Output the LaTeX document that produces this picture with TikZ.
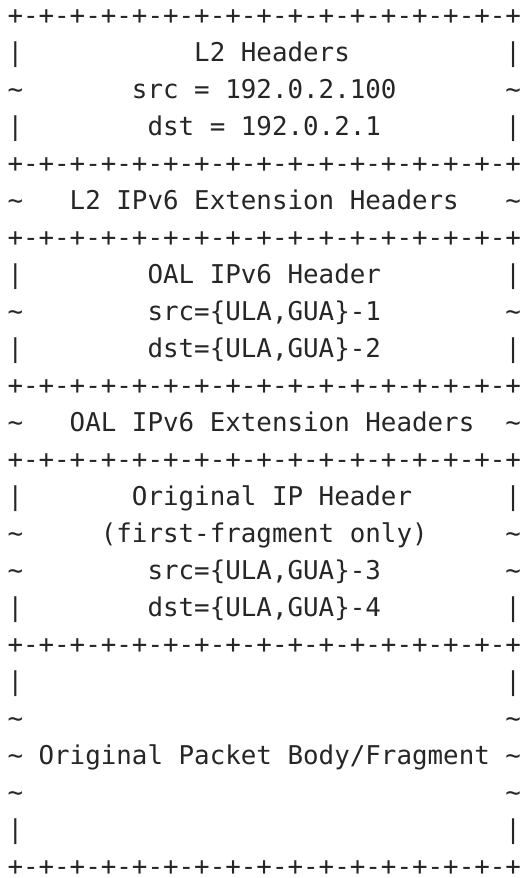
\documentclass[tikz,border=0pt]{standalone}
\usepackage{fontspec}
\newfontfamily\asciifont{DejaVu Sans Mono}
\def\cw{15.56}
\def\lp{37.0}
\def\bo{24.5}
\def\xo{7.5}
\def\pmq{+-+-+-+-}
\def\bordertxt{\pmq\pmq\pmq\pmq+}
\tikzset{txt/.style={anchor=base west, inner sep=0pt, outer sep=0pt, text depth=0pt,
  font=\asciifont\fontsize{25.85}{37}\selectfont, text=black!85}}
% \asc{name}{row}{column}{text}
\newcommand\asc[4]{\node[txt] (#1) at ({\xo pt+#3*\cw pt},{-(\bo+(#2-1)*\lp)*1pt}) {#4};}
\newcommand\tl{\textasciitilde}
\begin{document}
\begin{tikzpicture}
\useasboundingbox (0,0) rectangle (523pt,-878pt);
\asc{b1}{1}{0}{\bordertxt}
\asc{r2l}{2}{0}{|}\asc{r2t}{2}{12}{L2 Headers}\asc{r2r}{2}{32}{|}
\asc{r3l}{3}{0}{\tl}\asc{r3t}{3}{8}{src = 192.0.2.100}\asc{r3r}{3}{32}{\tl}
\asc{r4l}{4}{0}{|}\asc{r4t}{4}{9}{dst = 192.0.2.1}\asc{r4r}{4}{32}{|}
\asc{b5}{5}{0}{\bordertxt}
\asc{r6l}{6}{0}{\tl}\asc{r6t}{6}{4}{L2 IPv6 Extension Headers}\asc{r6r}{6}{32}{\tl}
\asc{b7}{7}{0}{\bordertxt}
\asc{r8l}{8}{0}{|}\asc{r8t}{8}{9}{OAL IPv6 Header}\asc{r8r}{8}{32}{|}
\asc{r9l}{9}{0}{\tl}\asc{r9t}{9}{9}{src=\{ULA,GUA\}-1}\asc{r9r}{9}{32}{\tl}
\asc{r10l}{10}{0}{|}\asc{r10t}{10}{9}{dst=\{ULA,GUA\}-2}\asc{r10r}{10}{32}{|}
\asc{b11}{11}{0}{\bordertxt}
\asc{r12l}{12}{0}{\tl}\asc{r12t}{12}{4}{OAL IPv6 Extension Headers}\asc{r12r}{12}{32}{\tl}
\asc{b13}{13}{0}{\bordertxt}
\asc{r14l}{14}{0}{|}\asc{r14t}{14}{8}{Original IP Header}\asc{r14r}{14}{32}{|}
\asc{r15l}{15}{0}{\tl}\asc{r15t}{15}{6}{(first-fragment only)}\asc{r15r}{15}{32}{\tl}
\asc{r16l}{16}{0}{\tl}\asc{r16t}{16}{9}{src=\{ULA,GUA\}-3}\asc{r16r}{16}{32}{\tl}
\asc{r17l}{17}{0}{|}\asc{r17t}{17}{9}{dst=\{ULA,GUA\}-4}\asc{r17r}{17}{32}{|}
\asc{b18}{18}{0}{\bordertxt}
\asc{r19l}{19}{0}{|}\asc{r19r}{19}{32}{|}
\asc{r20l}{20}{0}{\tl}\asc{r20r}{20}{32}{\tl}
\asc{r21l}{21}{0}{\tl}\asc{r21t}{21}{2}{Original Packet Body/Fragment}\asc{r21r}{21}{32}{\tl}
\asc{r22l}{22}{0}{\tl}\asc{r22r}{22}{32}{\tl}
\asc{r23l}{23}{0}{|}\asc{r23r}{23}{32}{|}
\asc{b24}{24}{0}{\bordertxt}
\end{tikzpicture}
\end{document}
